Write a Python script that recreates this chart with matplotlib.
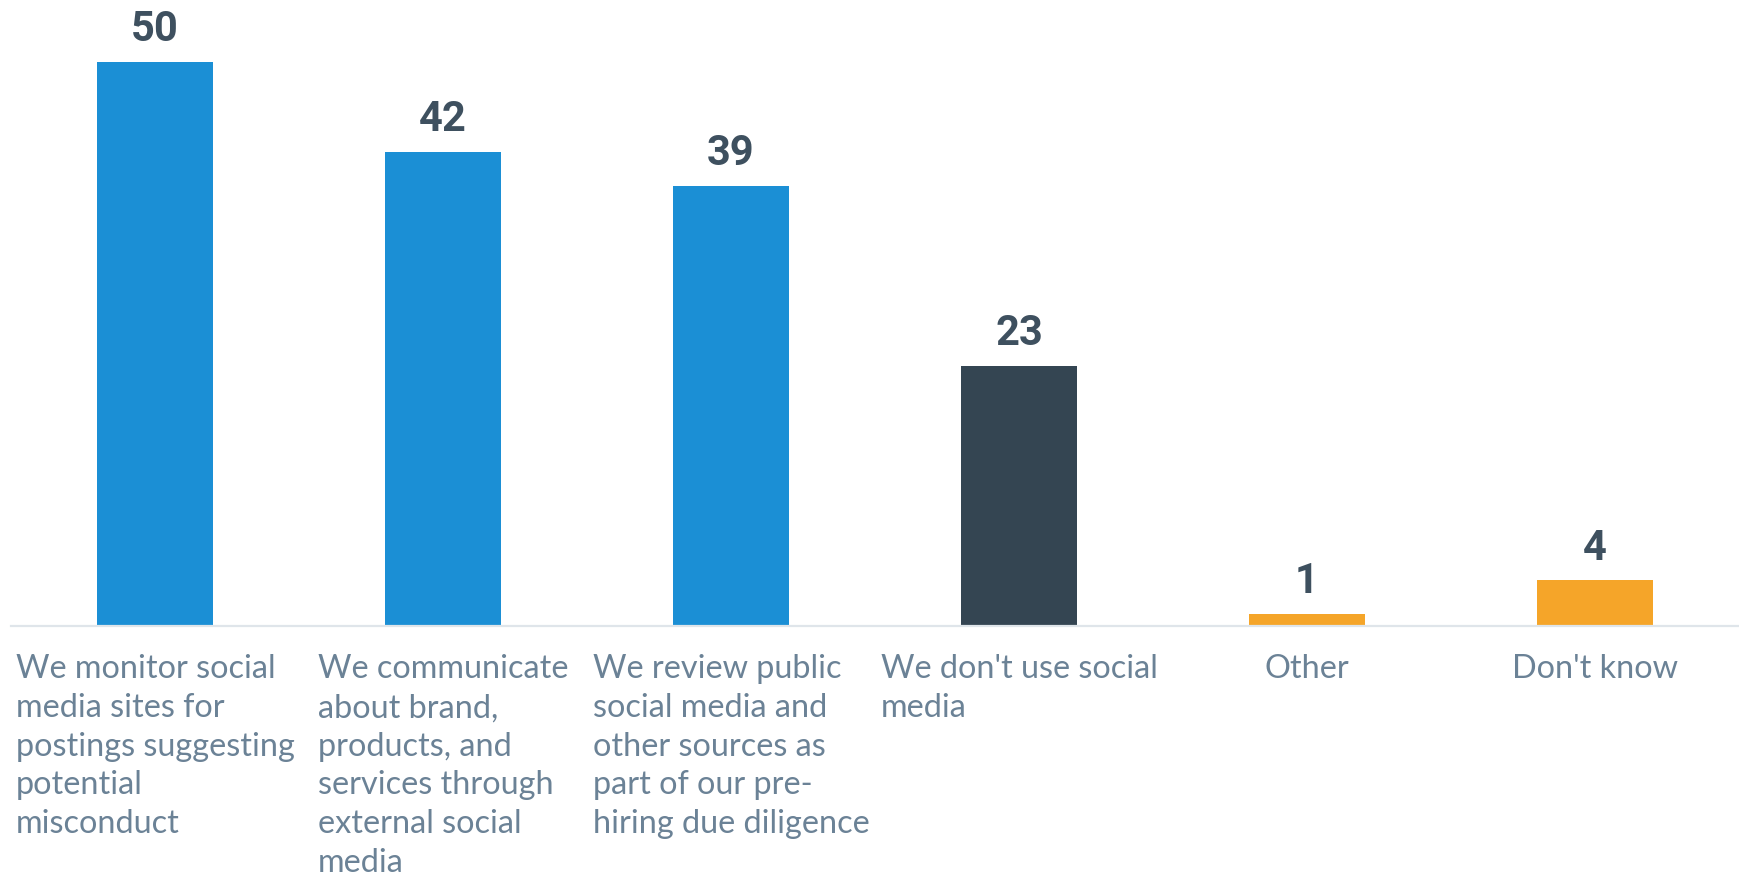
import matplotlib
matplotlib.use('Agg')
import matplotlib.pyplot as plt
from matplotlib.transforms import offset_copy

categories = [
    "We monitor social\nmedia sites for\npostings suggesting\npotential\nmisconduct",
    "We communicate\nabout brand,\nproducts, and\nservices through\nexternal social\nmedia",
    "We review public\nsocial media and\nother sources as\npart of our pre-\nhiring due diligence",
    "We don't use social\nmedia",
    "Other",
    "Don't know",
]
values = [50, 42, 39, 23, 1, 4]
bar_colors = ['#1b8fd5', '#1b8fd5', '#1b8fd5', '#344552', '#f5a529', '#f5a529']

VALUE_COLOR = '#3e505f'
LABEL_COLOR = '#6b8296'
AXIS_COLOR = '#dfe5ea'

W, H = 1739, 876
fig = plt.figure(figsize=(W / 100, H / 100), dpi=100)
# axes span from just right of the left edge to the right edge, baseline at y=625
ax = fig.add_axes([11 / W, (H - 625.5) / H, (W - 11) / W, 625.5 / H])

x = range(len(values))
ax.bar(x, values, width=0.4, color=bar_colors, zorder=2)

ax.set_xlim(-0.5, len(values) - 0.5)
ax.set_ylim(0, 55.5)
for side in ['top', 'right', 'left']:
    ax.spines[side].set_visible(False)
ax.spines['bottom'].set_color(AXIS_COLOR)
ax.spines['bottom'].set_linewidth(1.6)
ax.set_yticks([])
ax.set_xticks([])

# value labels above each bar
for i, v in enumerate(values):
    ax.annotate(str(v), xy=(i, v), xytext=(0, 15), textcoords='offset points',
                ha='center', va='baseline', fontsize=30, fontweight='bold',
                family='Roboto', color=VALUE_COLOR)

# category labels under the axis, centred blocks with left-aligned lines
trans = offset_copy(ax.get_xaxis_transform(), fig=fig, x=0, y=-29, units='dots')
for i, label in enumerate(categories):
    ax.text(i, 0, label, transform=trans, ha='center', va='top',
            multialignment='left', fontsize=23.3, family='Lato',
            color=LABEL_COLOR, linespacing=1.36)

fig.savefig('out.png', dpi=100)
